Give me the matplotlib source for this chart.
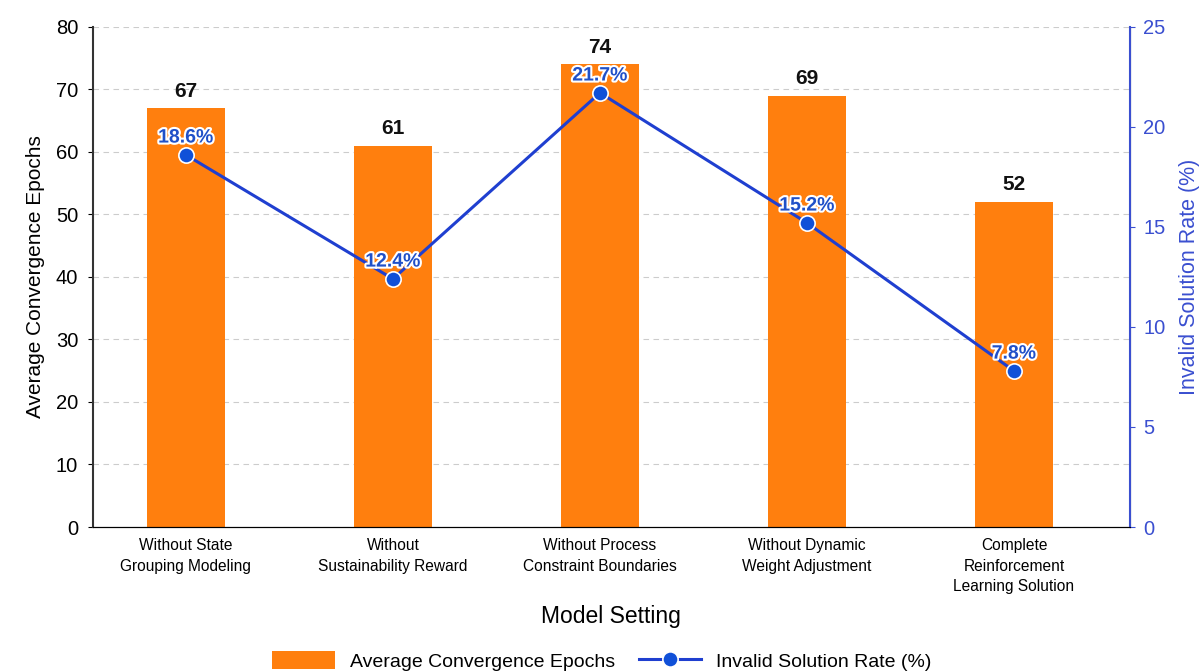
import matplotlib
matplotlib.use("Agg")
import matplotlib.pyplot as plt
import matplotlib.patheffects as pe
import numpy as np

plt.rcParams['font.family'] = ['Liberation Sans', 'DejaVu Sans']

settings = ["Without State\nGrouping Modeling", "Without\nSustainability Reward",
            "Without Process\nConstraint Boundaries", "Without Dynamic\nWeight Adjustment",
            "Complete\nReinforcement\nLearning Solution"]
epochs = [67, 61, 74, 69, 52]
invalid_rate = [18.6, 12.4, 21.7, 15.2, 7.8]

bar_color = "#ff7f0e"
line_color = "#1f3fd0"
axis_blue = "#3a4fd0"

fig, ax = plt.subplots(figsize=(12.04, 6.71), dpi=100)
fig.subplots_adjust(left=0.077, right=0.9385, top=0.96, bottom=0.2146)

x = np.arange(len(settings))
bars = ax.bar(x, epochs, width=0.38, color=bar_color, label="Average Convergence Epochs", zorder=2)
ax.set_ylim(0, 80)
ax.set_xlim(-0.45, 4.56)
ax.set_yticks(range(0, 81, 10))
ax.yaxis.grid(True, linestyle=(0, (5, 4)), color="#cccccc", linewidth=0.8, zorder=0)
ax.set_axisbelow(True)
ax.set_xticks(x)
ax.set_xticklabels(settings, fontsize=11.2, linespacing=1.45)
ax.tick_params(axis='y', labelsize=14.5, pad=7)
ax.tick_params(axis='x', length=0, pad=8)
ax.set_ylabel("Average Convergence Epochs", fontsize=15, labelpad=8)
ax.set_xlabel("Model Setting", fontsize=16.5, labelpad=8)
ax.spines['top'].set_visible(False)
ax.spines['left'].set_color("#333333")
ax.spines['left'].set_linewidth(1.5)

for b, v in zip(bars, epochs):
    ax.text(b.get_x() + b.get_width() / 2, v + 1.2, str(v), ha='center', va='bottom',
            fontsize=15, fontweight='bold', color='#111111')

ax2 = ax.twinx()
line, = ax2.plot(x, invalid_rate, color=line_color, linewidth=2.2, marker='o', markersize=11,
                 markerfacecolor="#1050d8", markeredgecolor='white', markeredgewidth=1.2,
                 label="Invalid Solution Rate (%)", zorder=3)
ax2.set_ylim(0, 25)
ax2.set_yticks(range(0, 26, 5))
ax2.tick_params(axis='y', labelsize=14.5, colors=axis_blue, pad=6)
ax2.set_ylabel("Invalid Solution Rate (%)", fontsize=15.5, color=axis_blue, labelpad=10)
ax2.spines['right'].set_color(axis_blue)
ax2.spines['right'].set_linewidth(1.5)
ax2.spines['top'].set_visible(False)
ax2.spines['left'].set_visible(False)

for xi, r in zip(x, invalid_rate):
    ax2.annotate(f"{r}%", (xi, r), xytext=(0, 6), textcoords='offset points',
                 ha='center', va='bottom', fontsize=14, fontweight='bold', color="#2050c8",
                 path_effects=[pe.withStroke(linewidth=3, foreground='white')])

fig.legend([bars, line], ["Average Convergence Epochs", "Invalid Solution Rate (%)"],
           loc='center', bbox_to_anchor=(0.5, 0.015), ncol=2, frameon=False, fontsize=14,
           handlelength=3.2, handleheight=1.0, columnspacing=1.2)

fig.savefig("out.png", dpi=100)
